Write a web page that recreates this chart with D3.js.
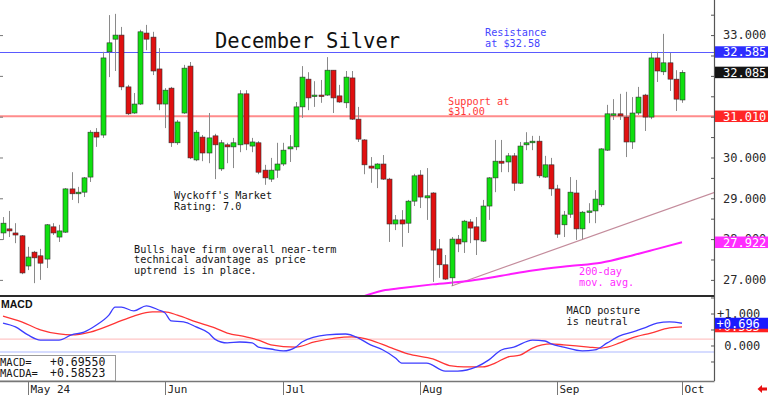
<!DOCTYPE html>
<html>
<head>
<meta charset="utf-8">
<script src="https://cdn.jsdelivr.net/npm/d3@7"></script>
<style>
  body { margin: 0; background: #fff; }
  svg { display: block; }
  text { font-family: "DejaVu Sans Mono", monospace; }
</style>
</head>
<body>
<div id="chart"></div>
<script>
// DATA
// trading days Apr 25 .. Oct 1 (index 0..109)
const monthLabels = ["May 24", "Jun", "Jul", "Aug", "Sep", "Oct"];
const monthStartIdx = [4, 26, 45, 67, 89, 109];

const opens = [28.15,28.25,28.15,28.08,27.34,27.68,27.59,27.51,28.30,28.05,
  28.17,29.23,29.11,29.15,29.52,30.62,30.55,32.59,32.90,33.00,
  31.73,31.09,31.31,33.05,32.95,32.17,31.31,31.70,30.36,31.09,
  32.24,29.94,30.50,30.11,30.53,29.72,30.31,30.26,30.31,31.56,
  30.28,30.36,29.69,29.47,29.69,29.84,30.21,30.26,31.24,31.92,
  31.51,31.53,31.53,32.14,31.51,31.34,31.95,30.94,30.43,29.79,
  29.72,29.84,29.47,28.37,28.47,28.39,28.93,29.57,29.01,29.13,
  27.76,27.37,27.05,28.00,27.93,28.42,28.30,27.95,28.81,29.50,
  29.91,29.89,30.04,29.37,30.31,30.36,30.40,29.52,29.82,29.23,
  28.35,28.61,29.13,28.25,28.66,28.69,28.84,30.18,31.04,31.07,
  30.99,30.38,31.09,31.53,30.99,32.44,32.10,32.32,31.92,31.41];
const highs = [28.54,28.69,28.39,28.10,27.81,27.71,27.76,28.37,28.39,28.35,
  29.25,29.64,29.28,29.52,30.67,30.72,32.59,33.49,33.52,33.20,
  31.78,31.58,33.13,33.25,33.08,32.68,31.70,31.73,30.92,32.27,
  32.34,30.67,30.55,31.09,30.58,30.43,30.36,30.48,31.65,31.65,
  30.48,30.40,29.82,29.99,30.36,30.36,30.55,31.36,32.24,32.09,
  31.87,31.90,32.46,32.14,31.78,32.12,32.12,31.24,30.45,30.01,
  29.86,30.06,29.50,28.59,28.71,28.96,29.60,29.69,29.74,29.15,
  28.00,27.61,28.05,28.10,28.47,28.49,28.54,28.96,29.52,30.43,
  30.43,30.11,30.11,30.38,30.62,30.53,30.53,30.04,29.99,29.33,
  28.69,29.52,29.45,28.69,28.88,29.20,30.23,31.29,31.43,31.56,
  31.61,31.48,31.73,31.56,32.59,32.59,33.03,32.56,32.14,32.14];
const lows = [27.98,28.05,27.90,27.14,27.24,26.92,27.00,27.29,28.10,27.93,
  28.15,28.96,28.88,29.03,29.40,30.26,30.48,31.97,32.12,31.65,
  31.04,31.07,31.29,32.63,32.02,31.16,30.72,30.26,30.31,31.07,
  29.96,29.91,29.91,29.86,29.47,29.67,29.86,29.74,30.13,30.18,
  30.13,29.59,29.33,29.40,29.50,29.79,29.89,30.18,30.97,31.16,
  31.24,31.34,31.51,31.09,31.34,31.21,30.92,30.38,29.59,29.38,
  29.25,29.45,27.93,28.22,27.81,28.15,28.81,28.76,28.47,26.95,
  27.05,27.00,26.85,27.68,27.66,27.90,27.61,27.93,28.47,29.15,
  29.64,29.64,29.18,29.35,30.18,30.18,29.50,29.50,29.06,28.03,
  28.05,28.52,27.98,28.00,28.39,28.39,28.79,30.16,30.92,30.92,
  30.01,30.21,31.04,30.65,30.94,31.85,32.02,31.63,31.14,31.34];
const closes = [28.39,28.20,28.10,27.17,27.56,27.54,27.41,28.35,28.15,28.20,
  29.23,29.11,29.15,29.50,30.62,30.50,32.44,32.81,33.00,31.73,
  31.07,31.31,33.08,32.90,32.12,31.31,31.65,30.36,30.87,32.19,
  29.99,30.62,30.11,30.48,30.31,30.36,30.26,30.36,31.56,30.33,
  30.38,29.64,29.50,29.69,29.84,30.18,30.26,31.24,31.97,31.46,
  31.53,31.51,32.14,31.46,31.36,31.97,30.94,30.45,29.82,29.74,
  29.84,29.47,28.37,28.47,28.37,28.93,29.55,29.03,29.06,27.73,
  27.37,27.02,28.00,27.88,28.44,28.27,27.98,28.81,29.50,29.91,
  29.86,30.04,29.37,30.28,30.36,30.40,29.55,29.82,29.23,28.12,
  28.59,29.15,28.25,28.66,28.69,28.98,30.21,31.07,31.07,31.02,
  30.38,31.09,31.48,30.99,32.44,32.12,32.32,31.92,31.43,32.085];

// 200-day moving average, read at sampled days
const ma200Idx  = [57, 61, 64, 69, 75, 80, 85, 91, 96, 101, 105, 109];
const ma200Vals = [26.55, 26.74, 26.80, 26.89, 26.98, 27.10, 27.23, 27.34, 27.42, 27.60, 27.76, 27.922];

// uptrend line anchors (extended to the right edge)
const trendIdx  = [72, 109];
const trendVals = [26.85, 28.86];

// MACD (blue) and MACDA signal (red), read at sampled days
const macdIdx  = [0,2,4,6,9,11,13,15,17,18,19,21,23,25,26,27,29,31,33,34,36,38,40,41,43,45,47,48,52,55,57,59,61,63,64,66,68,71,73,76,78,80,82,85,87,88,90,93,95,97,99,101,103,105,107,109];
const macdVals = [0.70,0.58,0.33,0.17,0.17,0.33,0.42,0.64,0.95,1.20,1.20,1.08,1.24,1.11,1.02,0.77,0.74,0.58,0.39,0.20,0.08,0.11,0.08,-0.05,-0.11,-0.17,-0.05,0.11,0.33,0.36,0.24,0.02,-0.14,-0.39,-0.55,-0.55,-0.55,-0.80,-0.80,-0.67,-0.45,-0.14,-0.05,0.17,0.14,0.05,-0.05,-0.17,-0.14,0.08,0.30,0.42,0.55,0.70,0.74,0.6955];
const signalIdx  = [0,3,6,9,11,14,18,21,24,26,28,31,34,36,39,41,43,47,50,56,59,62,65,69,72,74,77,79,81,83,85,88,90,94,96,99,101,104,107,109];
const signalVals = [0.92,0.74,0.49,0.36,0.33,0.42,0.70,0.92,1.05,1.05,0.95,0.74,0.55,0.39,0.27,0.17,0.02,-0.05,0.11,0.27,0.17,-0.05,-0.26,-0.42,-0.64,-0.67,-0.67,-0.55,-0.36,-0.30,-0.08,0.05,0.02,-0.05,-0.08,0.08,0.24,0.39,0.55,0.585];

// key levels
const resistanceLevel = 32.585;
const supportLevel = 31.010;
const lastClose = 32.085;
const ma200Last = 27.922;
const macdLast = 0.69550;
const signalLast = 0.58523;
const macdBands = [0.2, -0.2];

// axis tick labels
const priceLabelTicks = [27, 28, 29, 30, 33];   // 31 and 32 sit under the value flags
const macdLabelTicks = [0, 1];

// texts
const title = "December Silver";
const resistanceNote = ["Resistance", "at $32.58"];
const supportNote = ["Support at", "$31.00"];
const ratingNote = ["Wyckoff's Market", "Rating: 7.0"];
const outlookNote = ["Bulls have firm overall near-term", "technical advantage as price", "uptrend is in place."];
const maNote = ["200-day", "mov. avg."];
const macdNote = ["MACD posture", "is neutral"];
const readoutNames = ["MACD=", "MACDA="];

// LAYOUT
const width = 768, height = 395;
const plotLeft = 0, plotRight = 714;
const priceTop = 0, priceBottom = 296;
const macdTop = 297, macdBottom = 381;

const COLOURS = {
    up: "#10e010", down: "#e01010", wick: "#8a8a8a", outline: "#303030",
    resistance: "#5a5aff", support: "#ff8c8c", ma: "#ff1cff", trend: "#c48c9c",
    macd: "#3c3cff", signal: "#ff3434", text: "#151515", axis: "#333"
};

const svg = d3.select("#chart").append("svg")
    .attr("width", width)
    .attr("height", height);

const x = d3.scaleLinear().domain([0, 109]).range([3, 682]);
const y = d3.scaleLinear().domain([26.605, 33.86]).range([priceBottom, priceTop]);
const yM = d3.scaleLinear().domain([-1.11, 1.516]).range([macdBottom, macdTop]);

const px = i => Math.round(x(i)) + 0.5;

const defs = svg.append("defs");
defs.append("clipPath").attr("id", "clip-price")
    .append("rect").attr("x", plotLeft).attr("y", priceTop)
    .attr("width", plotRight - plotLeft).attr("height", priceBottom - priceTop);
defs.append("clipPath").attr("id", "clip-macd")
    .append("rect").attr("x", plotLeft).attr("y", macdTop)
    .attr("width", plotRight - plotLeft).attr("height", macdBottom - macdTop);

//PRICE PANEL
const priceG = svg.append("g").attr("clip-path", "url(#clip-price)");

priceG.append("line")
    .attr("x1", plotLeft).attr("x2", plotRight)
    .attr("y1", y(supportLevel)).attr("y2", y(supportLevel))
    .attr("stroke", COLOURS.support).attr("stroke-width", 2);
priceG.append("line")
    .attr("x1", plotLeft).attr("x2", plotRight)
    .attr("y1", Math.round(y(resistanceLevel)) + 0.5).attr("y2", Math.round(y(resistanceLevel)) + 0.5)
    .attr("stroke", COLOURS.resistance).attr("stroke-width", 1);

// trend line, extended to the edge
const trendSlope = (trendVals[1] - trendVals[0]) / (trendIdx[1] - trendIdx[0]);
const edgeIdx = x.invert(plotRight);
priceG.append("line")
    .attr("x1", x(trendIdx[0])).attr("y1", y(trendVals[0]))
    .attr("x2", plotRight).attr("y2", y(trendVals[0] + trendSlope * (edgeIdx - trendIdx[0])))
    .attr("stroke", COLOURS.trend).attr("stroke-width", 1.2);

// 200 day MA
priceG.append("path")
    .datum(ma200Idx.map((d, k) => [d, ma200Vals[k]]))
    .attr("fill", "none")
    .attr("stroke", COLOURS.ma)
    .attr("stroke-width", 2)
    .attr("d", d3.line().x(d => x(d[0])).y(d => y(d[1])).curve(d3.curveMonotoneX));

// candles
const candles = closes.map((c, i) => ({ i, o: opens[i], h: highs[i], l: lows[i], c }));
const candleG = priceG.selectAll("g.candle").data(candles)
    .enter()
    .append("g")
        .attr("class", "candle");

candleG.append("line")
    .attr("x1", d => px(d.i)).attr("x2", d => px(d.i))
    .attr("y1", d => y(d.h)).attr("y2", d => y(d.l))
    .attr("stroke", COLOURS.wick)
    .attr("stroke-width", 1);

candleG.append("rect")
    .attr("x", d => Math.round(x(d.i)) - 2)
    .attr("width", 5)
    .attr("y", d => y(Math.max(d.o, d.c)))
    .attr("height", d => Math.max(1.5, Math.abs(y(d.o) - y(d.c))))
    .attr("fill", d => d.c >= d.o ? COLOURS.up : COLOURS.down)
    .attr("stroke", COLOURS.outline)
    .attr("stroke-width", 0.6);

//MACD PANEL
const macdG = svg.append("g").attr("clip-path", "url(#clip-macd)");

macdG.selectAll("line.band").data(macdBands)
    .enter()
    .append("line")
        .attr("class", "band")
        .attr("x1", plotLeft).attr("x2", plotRight)
        .attr("y1", d => yM(d)).attr("y2", d => yM(d))
        .attr("stroke", (d, i) => i === 0 ? "#ffb8b8" : "#d6dcff")
        .attr("stroke-width", (d, i) => i === 0 ? 1 : 2);

const macdLine = d3.line().x(d => x(d[0])).y(d => yM(d[1])).curve(d3.curveMonotoneX);
macdG.append("path")
    .datum(signalIdx.map((d, k) => [d, signalVals[k]]))
    .attr("fill", "none").attr("stroke", COLOURS.signal).attr("stroke-width", 1.3)
    .attr("d", macdLine);
macdG.append("path")
    .datum(macdIdx.map((d, k) => [d, macdVals[k]]))
    .attr("fill", "none").attr("stroke", COLOURS.macd).attr("stroke-width", 1.3)
    .attr("d", macdLine);

svg.append("text")
    .attr("x", 1).attr("y", 307.5)
    .style("font-family", "'Liberation Sans', Arial, sans-serif")
    .style("font-weight", "bold")
    .style("font-size", "10.5px")
    .attr("fill", "#111")
    .text("MACD");

// readout box
const readG = svg.append("g");
readG.append("rect")
    .attr("x", -1).attr("y", 355.5)
    .attr("width", 116.5).attr("height", macdBottom - 355.5)
    .attr("fill", "#fff").attr("stroke", "#9a9a9a");
const readouts = [macdLast, signalLast];
readG.selectAll("text.name").data(readoutNames)
    .enter()
    .append("text")
        .attr("class", "name")
        .attr("x", 0)
        .attr("y", (d, i) => 366 + i * 11)
        .style("font-size", "10.5px")
        .attr("fill", COLOURS.text)
        .text(d => d);
readG.selectAll("text.value").data(readouts)
    .enter()
    .append("text")
        .attr("class", "value")
        .attr("x", 50)
        .attr("y", (d, i) => 366 + i * 11)
        .style("font-size", "11.5px")
        .attr("fill", COLOURS.text)
        .text(d => d3.format("+.5f")(d));

//FRAME
svg.append("line")
    .attr("x1", plotLeft).attr("x2", plotRight)
    .attr("y1", priceBottom).attr("y2", priceBottom)
    .attr("stroke", "#2a2a2a").attr("stroke-width", 2);
svg.append("line")
    .attr("x1", plotLeft).attr("x2", plotRight + 0.5)
    .attr("y1", macdBottom + 0.5).attr("y2", macdBottom + 0.5)
    .attr("stroke", "#777").attr("stroke-width", 1.5);
svg.append("line")
    .attr("x1", plotRight + 0.5).attr("x2", plotRight + 0.5)
    .attr("y1", 0).attr("y2", macdBottom)
    .attr("stroke", "#555").attr("stroke-width", 1.2);

//AXES
const priceAxis = d3.axisRight(y)
    .tickValues(d3.range(27, 34, 0.5).filter(v => v <= y.domain()[1]))
    .tickSize(-3)
    .tickPadding(9)
    .tickFormat(d => priceLabelTicks.includes(d) ? d3.format(".3f")(d) : "");
const priceAxisG = svg.append("g")
    .attr("transform", `translate(${plotRight},0)`)
    .call(priceAxis);

const macdAxis = d3.axisRight(yM)
    .tickValues([-0.5, 0, 0.5, 1, 1.5].filter(v => v <= yM.domain()[1]))
    .tickSize(-3)
    .tickPadding(3)
    .tickFormat(d => macdLabelTicks.includes(d) ? (d > 0 ? "+" : " ") + d3.format(".3f")(d) : "");
const macdAxisG = svg.append("g")
    .attr("transform", `translate(${plotRight},0)`)
    .call(macdAxis);

[priceAxisG, macdAxisG].forEach(g => {
    g.select(".domain").remove();
    g.selectAll(".tick line").attr("stroke", "#555");
    g.selectAll(".tick text")
        .style("font-family", "'DejaVu Sans Mono', monospace")
        .style("font-size", "12px")
        .style("white-space", "pre")
        .attr("fill", "#2a2a2a");
});

// small left-edge ticks
const leftAxisG = svg.append("g")
    .call(d3.axisRight(y).tickValues(d3.range(27, 34)).tickSize(3).tickFormat(""));
leftAxisG.select(".domain").remove();
leftAxisG.selectAll(".tick line").attr("stroke", "#777");

// value flags
function flag(g, value, scale, fill, label, boxH, fontSize, textX) {
    const cy = scale(value);
    g.append("rect")
        .attr("x", plotRight + 1).attr("y", cy - boxH / 2)
        .attr("width", width - plotRight - 1).attr("height", boxH)
        .attr("fill", fill);
    g.append("text")
        .attr("x", textX).attr("y", cy)
        .attr("dy", "0.36em")
        .style("font-size", fontSize)
        .style("white-space", "pre")
        .attr("fill", "#fff")
        .text(label);
}
const flagsG = svg.append("g");
flag(flagsG, resistanceLevel, y, "#2c2cff", d3.format(".3f")(resistanceLevel), 11.5, "12px", 723);
flag(flagsG, lastClose, y, "#141414", d3.format(".3f")(lastClose), 11.5, "12px", 723);
flag(flagsG, supportLevel, y, "#ff2626", d3.format(".3f")(supportLevel), 11.5, "12px", 723);
flag(flagsG, ma200Last, y, "#ff2cff", d3.format(".3f")(ma200Last), 11.5, "12px", 723);
flag(flagsG, signalLast, yM, "#ff2020", d3.format("+.3f")(signalLast), 11, "12px", 716.5);
flag(flagsG, macdLast, yM, "#1a1aff", d3.format("+.3f")(macdLast), 11, "12px", 716.5);

// date axis
const dateG = svg.append("g");
dateG.selectAll("line").data(monthStartIdx)
    .enter()
    .append("line")
        .attr("x1", d => px(d)).attr("x2", d => px(d))
        .attr("y1", macdBottom).attr("y2", height)
        .attr("stroke", "#777");
dateG.selectAll("text").data(monthLabels)
    .enter()
    .append("text")
        .attr("x", (d, i) => px(monthStartIdx[i]) + 2)
        .attr("y", 392.5)
        .style("font-size", "11px")
        .style("white-space", "pre")
        .attr("fill", "#222")
        .text(d => d);

// red scroll arrow
svg.append("path")
    .attr("d", "M757.5,389 L762,385 L762,387.5 L767,387.5 L767,390.5 L762,390.5 L762,393 Z")
    .attr("fill", "#e81010");

//ANNOTATIONS
function note(lines, x0, y0, fill, lineH = 10.5) {
    svg.append("g").selectAll("text").data(lines)
        .enter()
        .append("text")
            .attr("x", x0)
            .attr("y", (d, i) => y0 + i * lineH)
            .style("font-size", "10.2px")
            .style("white-space", "pre")
            .attr("fill", fill)
            .text(d => d);
}

svg.append("text")
    .attr("x", 215).attr("y", 47.5)
    .style("font-size", "20.5px")
    .attr("fill", "#111")
    .text(title);

note(resistanceNote, 485, 35.5, "#4646ff", 11);
note(supportNote, 448, 104.5, "#ff3838", 10);
note(ratingNote, 174, 199, COLOURS.text);
note(outlookNote, 134, 252.5, COLOURS.text);
note(maNote, 579, 275, "#ff2cff");
note(macdNote, 566.5, 314, COLOURS.text);
</script>
</body>
</html>
